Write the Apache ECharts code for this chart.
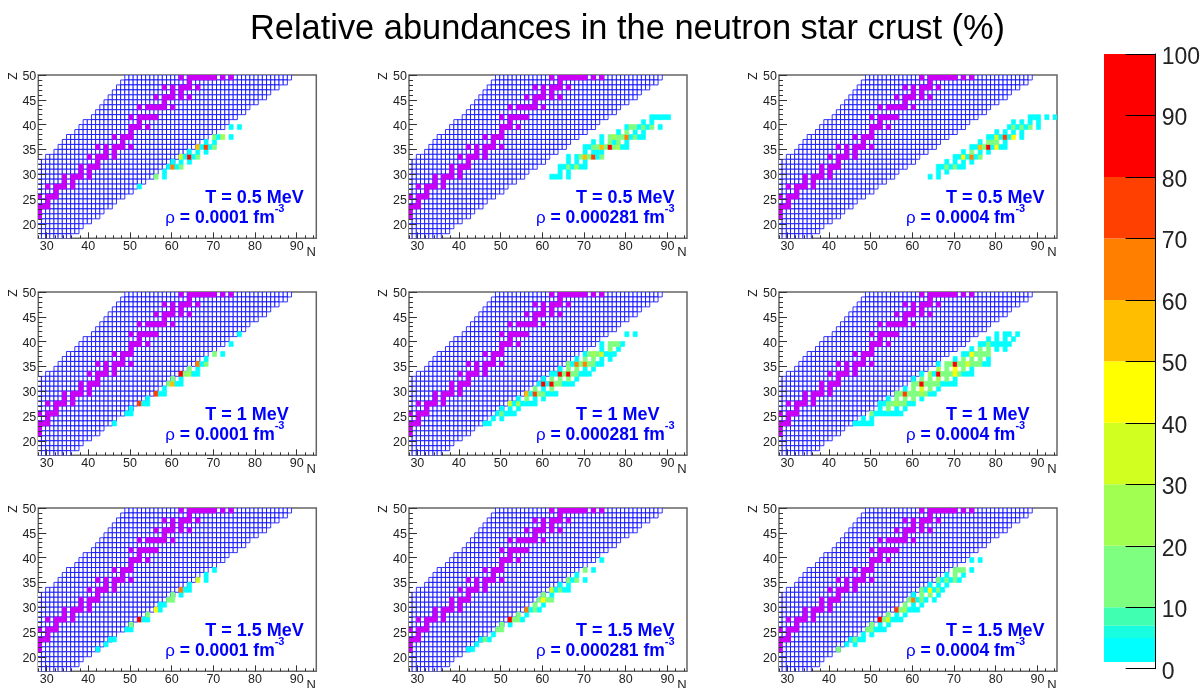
<!DOCTYPE html>
<html><head><meta charset="utf-8">
<style>html,body{margin:0;padding:0;background:#fff}#c{width:1203px;height:688px}</style>
<script src="https://cdn.jsdelivr.net/npm/echarts@6/dist/echarts.min.js"></script>
</head><body><div id="c"></div>
<script>
const mainTitle = 'Relative abundances in the neutron star crust (%)';
const temperatures = ['T = 0.5 MeV', 'T = 1 MeV', 'T = 1.5 MeV'];
const densities = ['0.0001', '0.000281', '0.0004'];
const nTicksMajor = [30, 40, 50, 60, 70, 80, 90];
const nTicksMinor = [28,30,32,34,36,38,40,42,44,46,48,50,52,54,56,58,60,62,64,66,68,70,72,74,76,78,80,82,84,86,88,90,92,94];
const zTicksMajor = [20, 25, 30, 35, 40, 45, 50];
const zTicksMinor = [18,19,20,21,22,23,24,25,26,27,28,29,30,31,32,33,34,35,36,37,38,39,40,41,42,43,44,45,46,47,48,49,50];
// chart outline of the nuclei: row Z, from Z = 50 down to Z = 18
const rowZ = [50,49,48,47,46,45,44,43,42,41,40,39,38,37,36,35,34,33,32,31,30,29,28,27,26,25,24,23,22,21,20,19,18];
const firstN = [49,48,47,46,45,44,43,42,41,39,38,37,35,34,33,32,30,28,28,28,28,28,28,28,28,28,28,28,28,28,28,28,28];
const lastN  = [88,87,85,83,82,80,78,77,75,73,72,70,68,66,65,63,61,60,58,56,55,53,51,50,48,46,45,43,42,40,38,37,35];
// magenta (beta-stable) cells: [Z, N...]
const stableCells = [
 [50,62,64,65,66,67,68,69,70,72,74],[49,64],[48,58,60,62,63,64,66],[47,60,62],[46,56,58,59,60,62,64],[45,58],
 [44,52,54,55,56,57,58,60],[42,50,52,53,54,55,56],[41,52],[40,50,51,52,54],[39,50],[38,46,48,49,50],[37,48],
 [36,42,44,46,47,48,50],[35,44,46],[34,40,42,43,44,46],[33,42],[32,38,40,41,42],[31,38,40],[30,34,36,37,38,40],
 [29,34,36],[28,30,32,33,34,36],[27,32],[26,28,30,31,32],[25,30],[24,28,29,30],[23,28],[22,28]
];
// abundance cells per panel: [Z, N, value, N, value, ...]
const crustT05R1 = [
 [28,52,3],[30,56,15,58,3],[31,58,3],[32,59,3,60,65,61,3,62,15],[33,60,3,62,3,64,3],
 [34,62,35,63,3,64,90,65,3,66,15],[35,64,3,66,3,68,3],[36,66,55,67,3,68,75,69,3,70,15],[37,68,3,70,3],
 [38,70,15,71,3,72,25,74,3],[40,74,3,76,3]];
const crustT05R2 = [
 [30,62,3,63,3,64,3,66,3],[31,64,3,66,3],[32,64,3,65,3,66,15,67,3,68,25,69,3,70,3],[33,66,3,68,3,70,3],
 [34,66,3,68,3,69,15,70,55,71,15,72,75,73,3,74,15],[35,70,3,72,3,73,3,74,3],
 [36,70,3,71,3,72,15,73,15,74,55,75,15,76,90,77,15,78,25,79,3,80,3],[37,72,3,74,3,76,15,77,3,78,15,80,3],
 [38,74,3,76,15,77,25,78,15,79,15,80,65,81,3,82,15,83,3,84,3],[39,78,3,80,15,82,3,84,3],
 [40,80,3,81,15,82,15,83,3,84,15,85,3,86,15,88,3],[41,84,3,86,3],[42,86,3,87,3,88,3,89,3,90,3]];
const crustT05R3 = [
 [30,64,3,66,3],[31,66,3,68,3],[32,66,3,67,3,68,15,69,3,70,15,71,3,72,3],[33,68,3,70,3,72,3,74,3],
 [34,70,3,71,3,72,45,73,3,74,65,75,3,76,15],[35,72,3,74,15,76,3,78,3],
 [36,74,3,75,3,76,55,77,15,78,90,79,3,80,45,81,3,82,3],[37,76,3,78,15,79,15,80,15,82,3],
 [38,78,3,79,3,80,35,81,3,82,75,83,3,84,45,86,3],[39,80,3,82,3,84,3,86,3],
 [40,83,3,84,15,85,3,86,15,87,3,88,15,90,3],[41,84,3,86,3,88,3,90,3],[42,88,3,89,3,90,3,92,3,94,3]];
const crustT10R1 = [
 [24,46,3],[26,49,3,50,3],[27,50,3],[28,52,75,53,3,54,3],[29,54,3],[30,56,75,57,3,58,3],[31,58,3],
 [32,59,15,60,55,61,3,62,3],[33,60,15,62,3],[34,62,90,63,15,64,25,65,3,66,3],[35,64,15,66,3],
 [36,66,65,67,3,68,15],[37,68,3],[38,70,15,72,3],[40,74,3],[42,76,3]];
const crustT10R2 = [
 [24,46,3,47,3],[25,48,3,50,3],[26,49,3,50,15,51,3,52,3,53,3],[27,50,3,52,3,54,3],
 [28,52,35,53,3,54,25,55,3,56,3,57,3,58,3],[29,54,3,56,15,58,3,60,3],
 [30,56,55,57,3,58,75,59,15,60,15,61,3,62,3,63,3],[31,58,15,60,3,62,15],
 [32,59,3,60,90,61,3,62,90,63,15,64,15,65,3,66,3,67,3],[33,60,3,62,15,64,15,66,15,68,3],
 [34,62,3,63,3,64,90,65,15,66,90,67,15,68,15,69,3,70,3,71,3],[35,64,3,66,15,68,15,70,3,72,3],
 [36,66,15,67,3,68,65,69,15,70,65,71,15,72,15,73,3,74,3],[37,68,3,70,15,72,15,74,3,76,3],
 [38,70,3,71,15,72,25,73,15,74,35,75,3,76,3,77,3],[39,74,3,76,15,78,3],[40,74,3,76,15,77,15,78,15,79,3],
 [42,80,3,82,3]];
const crustT10R3 = [
 [24,46,3,47,3,48,3,49,3,50,3],[25,48,3,50,3],[26,50,15,51,3,52,3,53,3,54,3,55,3,56,3,57,3],
 [27,52,3,54,15,56,3,58,3],[28,52,3,53,3,54,15,55,15,56,25,57,15,58,15,59,3,60,3],[29,54,3,56,15,58,15,60,15,62,3],
 [30,56,15,57,15,58,75,59,15,60,15,61,15,62,25,63,15,64,3,65,3],[31,58,3,60,15,62,35,64,15,66,3],
 [32,60,15,61,15,62,90,63,15,64,15,65,15,66,15,67,3,68,3,69,3,70,3],[33,60,3,62,15,64,15,66,25,68,15,70,3],
 [34,62,3,64,25,65,3,66,90,67,15,68,15,69,15,70,45,71,15,72,3,73,3,74,3],[35,66,25,68,15,70,45,72,15,74,3],
 [36,66,3,68,15,69,15,70,90,71,15,72,15,73,35,74,15,75,15,76,15,77,3,78,3],[37,70,3,72,15,74,15,76,15,78,3],
 [38,72,3,73,3,74,45,75,15,76,15,77,15,78,15],[39,74,3,76,15,78,15,80,3,82,3],
 [40,76,3,77,3,78,15,79,3,80,3,81,3,82,3,83,3],[41,78,3,80,3,82,3,84,3],[42,80,3,82,3,83,3,85,3]];
const crustT15R1 = [
 [22,42,3],[23,44,3],[24,45,3,46,3],[26,49,3,50,3],[27,50,15],[28,52,90,53,3,54,3],[29,54,15],[30,56,45,57,3],
 [31,57,3,58,3],[32,59,15,60,15],[33,60,15,62,3],[34,62,65,63,3,64,3],[35,64,3],[36,66,35,68,3],[37,68,3],[38,70,3]];
const crustT15R2 = [
 [22,42,3,43,3],[23,44,3],[24,45,3,46,15,47,3],[25,48,3],[26,49,15,50,15],[27,50,15,52,3],
 [28,52,90,53,15,54,15,55,3],[29,54,15,56,3],[30,56,65,57,3,58,15,59,3],[31,58,15,60,3],
 [32,59,15,60,45,61,15,62,15],[33,60,15,62,3],[34,62,35,63,3,64,15,65,3,66,3],[35,64,3,66,3],
 [36,66,15,67,3,68,15,70,3],[37,68,3],[38,70,15,72,3],[40,74,3]];
const crustT15R3 = [
 [22,42,15],[23,44,3,46,3],[24,45,3,46,15,47,3,48,3],[25,48,3,50,3],[26,49,15,50,15,51,3,52,3,53,3],
 [27,50,15,52,3,54,3],[28,52,90,53,15,54,35,55,3,56,3,57,3],[29,54,15,56,3,58,3],
 [30,56,75,57,15,58,25,59,3,60,3,61,3],[31,58,15,60,3,62,3],[32,59,15,60,65,61,3,62,15,63,3,65,3],
 [33,60,3,62,15,64,15,66,3],[34,62,15,63,3,64,45,65,3,66,15,67,3],[35,64,3,66,3,68,3],
 [36,66,15,67,3,68,15,69,3,70,15,71,3],[37,68,3,70,15,72,3],[38,70,15,71,15,72,15,74,3],[40,74,3,76,3]];
const panelCells = [crustT05R1,crustT05R2,crustT05R3,crustT10R1,crustT10R2,crustT10R3,crustT15R1,crustT15R2,crustT15R3];
// colour scale
const scaleEdges = [1.1,5,7,10,20,30,40,50,60,70,80,100];
const scaleColors = ['#00ffff','#17ffe0','#40ffb0','#7fff80','#a0ff50','#d0ff20','#ffff00','#ffbf00','#ff8000','#ff4000','#ff0000'];
const scaleTicks = {min:0,max:100,interval:10};

const gx=[38.3,409,779], gy=[75,292,508], gw=278, gh=163.3;
const NMIN=28, NMAX=94.7, ZMIN=17.07, ZMAX=50;
const blue=[];
rowZ.forEach((z,i)=>{for(let n=firstN[i];n<=lastN[i];n++)blue.push([n,z]);});
const magenta=[];
stableCells.forEach(r=>{for(let i=1;i<r.length;i++)magenta.push([r[i],r[0]]);});
function colorOf(v){for(let i=0;i<scaleColors.length;i++)if(v<scaleEdges[i+1])return scaleColors[i];return scaleColors[scaleColors.length-1];}
function cellShape(api){
  const a=api.coord([api.value(0),api.value(1)]), b=api.coord([api.value(0)+1,api.value(1)-1]);
  return {x:a[0]-1,y:a[1],width:b[0]-a[0],height:b[1]-a[1]};
}
const FONT='"Liberation Sans"';
const grids=[],xAxes=[],yAxes=[],series=[],titles=[],graphics=[];
titles.push({text:mainTitle,left:622.5,top:8,textAlign:'center',textStyle:{fontSize:34.4,fontWeight:'normal',color:'#000',fontFamily:FONT}});
for(let i=0;i<9;i++){
  const c=i%3,r=Math.floor(i/3),L=gx[c],T=gy[r];
  grids.push({left:L,top:T,width:gw,height:gh,show:true,borderColor:'#666',borderWidth:1.5,backgroundColor:'transparent'});
  const base={gridIndex:i,type:'value',min:NMIN,max:NMAX,splitLine:{show:false},axisLine:{show:false},z:10};
  xAxes.push({...base,position:'bottom',
    axisTick:{show:true,inside:true,length:6,lineStyle:{color:'#333'},customValues:nTicksMajor},
    axisLabel:{show:true,fontSize:12.5,margin:2,color:'#222',fontFamily:FONT,customValues:nTicksMajor,hideOverlap:false}});
  xAxes.push({...base,position:'bottom',axisTick:{show:true,inside:true,length:3,lineStyle:{color:'#333'},customValues:nTicksMinor},axisLabel:{show:false}});
  const ybase={gridIndex:i,type:'value',min:ZMIN,max:ZMAX,splitLine:{show:false},axisLine:{show:false},z:10};
  yAxes.push({...ybase,position:'left',
    axisTick:{show:true,inside:true,length:8,lineStyle:{color:'#333'},customValues:zTicksMajor},
    axisLabel:{show:true,fontSize:12.5,margin:2,verticalAlign:'top',lineHeight:3,color:'#222',fontFamily:FONT,customValues:zTicksMajor,hideOverlap:false}});
  yAxes.push({...ybase,position:'left',axisTick:{show:true,inside:true,length:4,lineStyle:{color:'#333'},customValues:zTicksMinor},axisLabel:{show:false}});
  const xi=i*2,yi=i*2;
  series.push({type:'custom',xAxisIndex:xi,yAxisIndex:yi,clip:true,silent:true,data:blue,encode:{x:0,y:1},z:2,
    renderItem:(p,api)=>({type:'rect',shape:cellShape(api),style:{fill:'#fff',stroke:'#0000ff',lineWidth:0.8}})});
  series.push({type:'custom',xAxisIndex:xi,yAxisIndex:yi,clip:true,silent:true,data:magenta,encode:{x:0,y:1},z:3,
    renderItem:(p,api)=>({type:'rect',shape:cellShape(api),style:{fill:'#cc00f5',stroke:'#cc00f5',lineWidth:0.6}})});
  const cells=[];
  panelCells[i].forEach(row=>{for(let k=1;k<row.length;k+=2)cells.push([row[k],row[0],row[k+1]]);});
  series.push({type:'custom',xAxisIndex:xi,yAxisIndex:yi,clip:true,silent:true,data:cells,encode:{x:0,y:1},z:4,
    renderItem:(p,api)=>{const col=colorOf(api.value(2));return {type:'rect',shape:cellShape(api),style:{fill:col,stroke:col,lineWidth:0.6}};}});
  titles.push({text:temperatures[r],left:L+162,top:T+109,textStyle:{fontSize:18,fontWeight:'bold',color:'#0000ff',fontFamily:FONT}});
  titles.push({text:'{r|ρ}{a| = '+densities[c]+' fm}{b|-3}',left:L+122,top:T+123,textStyle:{rich:{
    r:{fontSize:17,fontWeight:'normal',color:'#0000ff',fontFamily:FONT,verticalAlign:'bottom',lineHeight:24},
    a:{fontSize:17.5,fontWeight:'bold',color:'#0000ff',fontFamily:FONT,verticalAlign:'bottom',lineHeight:24},
    b:{fontSize:11,fontWeight:'bold',color:'#0000ff',fontFamily:FONT,verticalAlign:'top',lineHeight:11}}}});
  graphics.push({type:'text',x:L+273,y:T+177,silent:true,style:{text:'N',font:'13px '+FONT,fill:'#222',textAlign:'center',textVerticalAlign:'middle'}});
  graphics.push({type:'text',x:L-25,y:T+1,rotation:Math.PI/2,silent:true,style:{text:'Z',font:'12px '+FONT,fill:'#222',textAlign:'center',textVerticalAlign:'middle'}});
}
// colour bar
grids.push({left:1104,top:54,width:53,height:614.7});
xAxes.push({gridIndex:9,type:'value',min:0,max:1,show:false});
yAxes.push({gridIndex:9,type:'value',position:'right',min:scaleTicks.min,max:scaleTicks.max,interval:scaleTicks.interval,splitLine:{show:false},z:10,
  axisLine:{show:true,onZero:false,lineStyle:{color:'#000',width:1}},axisTick:{show:true,inside:true,length:30,lineStyle:{color:'#000'}},
  axisLabel:{fontSize:23,margin:6,verticalAlign:'top',lineHeight:7,color:'#222',fontFamily:FONT}});
const barData=scaleColors.map((col,i)=>[0,scaleEdges[i],scaleEdges[i+1],i]);
series.push({type:'custom',xAxisIndex:18,yAxisIndex:18,silent:true,data:barData,encode:{y:[1,2]},z:1,
  renderItem:(p,api)=>{
    const a=api.coord([0,api.value(2)]),b=api.coord([1,api.value(1)]);
    return {type:'rect',shape:{x:a[0],y:a[1],width:b[0]-a[0],height:b[1]-a[1]},style:{fill:scaleColors[api.value(3)]}};
  }});
const chart=echarts.init(document.getElementById('c'),null,{renderer:'canvas'});
chart.setOption({animation:false,backgroundColor:'#fff',title:titles,grid:grids,xAxis:xAxes,yAxis:yAxes,series:series,graphic:graphics});
</script></body></html>
